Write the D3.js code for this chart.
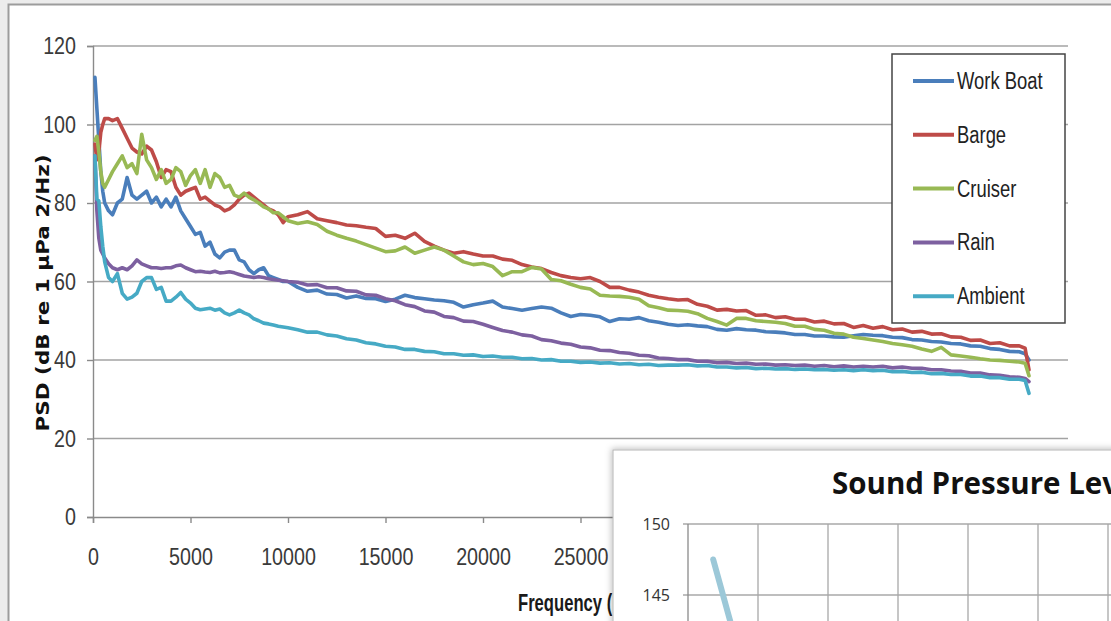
<!DOCTYPE html>
<html>
<head>
<meta charset="utf-8">
<script src="https://cdn.jsdelivr.net/npm/d3@7"></script>
<style>
  html, body { margin: 0; padding: 0; background: #ececec; overflow: hidden; }
  svg { display: block; }
</style>
</head>
<body>
<svg id="chart" width="1111" height="621"></svg>
<script>
const labelFont = '"Liberation Sans", Arial, sans-serif'
const seriesNames = ['Work Boat', 'Barge', 'Cruiser', 'Rain', 'Ambient']
const seriesColors = ['#4a7ebb', '#be4b48', '#98b954', '#7d60a0', '#46aac5']

// frequency grid of the samples (Hz)
const freqs = [100, 200, 300, 400, 500, 600, 800]
  .concat(d3.range(1000, 10001, 250), d3.range(10500, 47501, 500), [47800, 48000])

const workBoat = [
  112, 104, 96, 88, 83, 80, 78,
  77, 80, 81, 86.5, 82, 81, 82, 83, 80, 81.5, 79, 81, 79, 81.5, 78, 76, 74, 72, 72.5, 69, 70, 67, 66, 67.5, 68, 68, 65.5, 65, 63, 62, 63, 63.5, 61.5, 61, 60.5, 60, 60,
  58.5, 57.5, 57.8, 56.8, 56.7, 55.8, 56.3, 55.7, 55.6, 54.9, 55.5, 56.5, 55.9, 55.6, 55.3, 55.1, 54.7, 53.5, 54.1, 54.5,
  55, 53.5, 53.1, 52.7, 53.1, 53.5, 53.2, 52, 51.1, 51.6, 51.4, 51, 49.8, 50.5, 50.4, 50.8, 50, 49.6, 49.1, 48.8,
  49, 48.7, 48.5, 47.8, 47.6, 48, 47.7, 47.6, 47.2, 47.1, 46.9, 46.5, 46.5, 46.1, 46.1, 45.9, 45.8, 46.2, 46.5, 46.3,
  46.2, 45.8, 45.7, 45.2, 45.1, 44.7, 44.6, 44.2, 44.1, 43.6, 43.5, 42.9, 42.7, 42.2, 42.1,
  41.6, 40
]
const barge = [
  95, 91, 93, 98, 100, 101.5, 101.5,
  101, 101.5, 99, 96.5, 94, 93, 92.5, 94.5, 93.5, 90.5, 86.5, 88.5, 88, 84, 82, 83, 83.5, 84, 81, 81.5, 80.5, 79.5, 79, 78, 78.5, 79.5, 81, 82, 82.5, 81.5, 80.5, 79.5, 78.5, 78, 77, 75, 76.5,
  77, 77.8, 76, 75.5, 75, 74.4, 74.2, 73.8, 73.5, 71.5, 71.8, 71, 72.3, 70.2, 69, 68, 67.2, 67.6, 67, 66.5,
  66.5, 65.7, 65.4, 64.3, 63.7, 63.3, 62.3, 61.5, 61, 60.7, 61, 60, 58.5, 58.5, 57.8, 57.3, 56.5, 56, 55.6, 55.3,
  55.4, 54.2, 53.7, 52.7, 52.9, 52.5, 52.6, 51.4, 51.5, 50.8, 51, 50.4, 50.4, 49.7, 49.9, 49.2, 49.3, 48.3, 48.8, 48.1,
  48.5, 47.7, 47.9, 47.1, 47.3, 46.6, 46.7, 45.9, 45.8, 45, 45.1, 44.2, 44.4, 43.6, 43.6,
  43, 37.5
]
const cruiser = [
  96, 97, 93, 88, 85, 84, 86,
  88, 90, 92, 89, 90, 87.5, 97.5, 91, 89, 86, 88.5, 85, 86, 89, 88, 84.5, 87, 88.5, 85, 88.5, 84, 87.5, 86.5, 84, 84.5, 82, 81.5, 82.5, 81.5, 80.8, 80, 79, 78.5, 77.5, 77.5, 76.5, 75.5,
  74.8, 75.2, 74.5, 72.8, 71.8, 71, 70.3, 69.4, 68.5, 67.6, 67.8, 68.8, 67.2, 68, 68.8, 68, 66.5, 65, 64.3, 64.6,
  63.8, 61.5, 62.5, 62.5, 63.6, 63.2, 60.5, 60.2, 59.3, 58.5, 58.1, 56.5, 56.3, 56.2, 56, 55.5, 53.8, 53.3, 52.7, 52.6,
  52.4, 51.8, 50.6, 49.8, 48.9, 50.6, 50.6, 50, 49.8, 49.6, 49.3, 48.6, 48.6, 47.8, 47.6, 46.8, 46.6, 45.8, 45.5, 45.1,
  44.7, 44.2, 43.9, 43.5, 42.8, 42.2, 43.2, 41.3, 41, 40.7, 40.3, 40, 39.9, 39.7, 39.5,
  39.2, 36
]
const rain = [
  92, 78, 71, 68, 67, 66, 64.5,
  63.5, 63, 63.5, 63, 64, 65.5, 64.5, 64, 63.5, 63.5, 63.3, 63.5, 63.5, 64, 64.2, 63.5, 63, 62.5, 62.6, 62.4, 62.3, 62.6, 62.2, 62.3, 62.5, 62.2, 61.8, 61.4, 61.2, 61, 61.2, 61, 60.7, 60.5, 60.3, 60.2, 60,
  59.8, 59.1, 59.2, 58.4, 58.4, 57.6, 57.5, 56.6, 56.5, 55.6, 55.1, 54.1, 53.6, 52.5, 52.2, 51.1, 50.8, 49.9, 49.8, 49.1,
  48.3, 47.5, 47.1, 46.4, 46.1, 45.2, 44.9, 44.3, 44, 43.3, 43.1, 42.5, 42.4, 41.9, 41.7, 41.2, 41.1, 40.5, 40.4, 40.1,
  40.1, 39.7, 39.7, 39.3, 39.4, 39.1, 39.2, 38.9, 39, 38.7, 38.8, 38.6, 38.7, 38.4, 38.6, 38.3, 38.5, 38.2, 38.4, 38.2,
  38.4, 38, 38.2, 37.9, 37.9, 37.5, 37.5, 37.2, 37.1, 36.7, 36.7, 36.2, 36.1, 35.7, 35.6,
  35.3, 34.5
]
const ambient = [
  92, 81, 80.5, 74, 69, 65, 61,
  60, 62, 57, 55.5, 56, 57, 60, 61, 61, 58, 58.5, 55, 55, 56, 57.2, 55.5, 54.5, 53.2, 52.8, 53, 53.2, 52.7, 53, 52, 51.5, 52, 52.7, 52, 51.5, 50.5, 50, 49.4, 49.2, 48.9, 48.6, 48.4, 48.2,
  47.7, 47.1, 47.1, 46.4, 46.1, 45.4, 45.1, 44.4, 44.1, 43.5, 43.3, 42.7, 42.7, 42.2, 42.1, 41.6, 41.6, 41.2, 41.3, 40.9,
  41, 40.7, 40.7, 40.3, 40.4, 40, 40.1, 39.7, 39.7, 39.4, 39.5, 39.2, 39.3, 39, 39.1, 38.8, 38.9, 38.6, 38.7, 38.7,
  38.8, 38.5, 38.6, 38.2, 38.2, 38, 38.1, 37.8, 37.9, 37.7, 37.8, 37.6, 37.7, 37.5, 37.6, 37.4, 37.5, 37.3, 37.5, 37.3,
  37.4, 37, 37.1, 36.8, 36.9, 36.5, 36.6, 36.3, 36.3, 35.9, 35.9, 35.5, 35.5, 35.1, 35.1,
  34.8, 31.5
]
const seriesValues = [workBoat, barge, cruiser, rain, ambient]

const yTicks = [0, 20, 40, 60, 80, 100, 120]
const xTicks = [0, 5000, 10000, 15000, 20000, 25000, 30000, 35000, 40000, 45000, 50000]

// the overlapping second chart (only its corner is visible)
const splTicks = [150, 145, 140, 135]
const splCols = [0, 1, 2, 3, 4, 5, 6]
const splX = [0.36, 0.78]
const splY = [147.5, 140]

const svg = d3.select('#chart')

// squeeze text horizontally, the source font is a narrow one
function condense(sel, factor) {
  sel.each(function () {
    const w = this.getComputedTextLength()
    d3.select(this).attr('textLength', w * factor).attr('lengthAdjust', 'spacingAndGlyphs')
  })
}

// white chart panel with its frame
svg.append('rect')
  .attr('x', 8.5).attr('y', 4.5)
  .attr('width', 1200).attr('height', 700)
  .attr('fill', '#fff')
  .attr('stroke', '#9c9c9c')
  .attr('stroke-width', 2)

var x = d3.scaleLinear().domain([0, 50000]).range([93, 1068])
var y = d3.scaleLinear().domain([0, 120]).range([517, 46])

// horizontal gridlines
svg.append('g')
  .selectAll('line')
  .data(yTicks.filter(d => d > 0))
  .join('line')
  .attr('x1', x(0)).attr('x2', x(50000))
  .attr('y1', d => y(d)).attr('y2', d => y(d))
  .attr('stroke', '#a3a3a3')
  .attr('stroke-width', 1.6)

// y axis
const yAxis = svg.append('g')
  .attr('transform', `translate(${x(0)},0)`)
  .call(d3.axisLeft(y).tickValues(yTicks).tickSize(6).tickPadding(11))
yAxis.select('.domain').attr('stroke', '#8a8a8a').attr('stroke-width', 1.4)
yAxis.selectAll('.tick line').attr('stroke', '#8a8a8a').attr('stroke-width', 1.4)
yAxis.selectAll('.tick text')
  .attr('font-family', labelFont).attr('font-size', 24).attr('fill', '#3a3a3a')
  .call(condense, 0.82)

// x axis
const xAxis = svg.append('g')
  .attr('transform', `translate(0,${y(0)})`)
  .call(d3.axisBottom(x).tickValues(xTicks).tickSize(6).tickFormat(d3.format('d')))
xAxis.select('.domain').attr('stroke', '#8a8a8a').attr('stroke-width', 1.4)
xAxis.selectAll('.tick line').attr('stroke', '#8a8a8a').attr('stroke-width', 1.4)
xAxis.selectAll('.tick text')
  .attr('y', 48).attr('dy', null)
  .attr('font-family', labelFont).attr('font-size', 24).attr('fill', '#3a3a3a')
  .call(condense, 0.82)

// axis titles
svg.append('text')
  .attr('transform', 'translate(49,293) rotate(-90)')
  .attr('text-anchor', 'middle')
  .attr('font-family', '"DejaVu Sans", sans-serif')
  .attr('font-weight', 'bold')
  .attr('font-size', 18)
  .attr('textLength', 277)
  .attr('lengthAdjust', 'spacingAndGlyphs')
  .attr('fill', '#111')
  .text('PSD (dB re 1 µPa 2/Hz)')

svg.append('text')
  .attr('x', 518).attr('y', 611)
  .attr('font-family', labelFont)
  .attr('font-weight', 'bold')
  .attr('font-size', 23)
  .attr('textLength', 120)
  .attr('lengthAdjust', 'spacingAndGlyphs')
  .attr('fill', '#1a1a1a')
  .text('Frequency (Hz)')

// series
var lineGenerator = d3.line()
  .x(function (d) { return x(d[0]) })
  .y(function (d) { return y(d[1]) })

seriesValues.forEach(function (vals, i) {
  svg.append('path')
    .datum(d3.zip(freqs, vals))
    .attr('d', lineGenerator)
    .attr('fill', 'none')
    .attr('stroke', seriesColors[i])
    .attr('stroke-width', 3.6)
    .attr('stroke-linejoin', 'round')
    .attr('stroke-linecap', 'round')
})

// legend
const legend = svg.append('g')
legend.append('rect')
  .attr('x', 892).attr('y', 54)
  .attr('width', 173).attr('height', 269)
  .attr('fill', '#fff')
  .attr('stroke', '#444')
  .attr('stroke-width', 1.5)
seriesNames.forEach(function (name, i) {
  const ly = 81 + i * 53.8
  legend.append('line')
    .attr('x1', 913).attr('x2', 954)
    .attr('y1', ly).attr('y2', ly)
    .attr('stroke', seriesColors[i])
    .attr('stroke-width', 4)
  legend.append('text')
    .attr('x', 957).attr('y', ly)
    .attr('dy', '0.35em')
    .attr('font-family', labelFont)
    .attr('font-size', 23)
    .attr('fill', '#222')
    .text(name)
    .call(condense, 0.8)
})

// second chart overlapping the lower right corner
const defs = svg.append('defs')
const shadow = defs.append('filter').attr('id', 'shadow')
  .attr('x', '-5%').attr('y', '-10%').attr('width', '110%').attr('height', '120%')
shadow.append('feDropShadow')
  .attr('dx', -1).attr('dy', -1).attr('stdDeviation', 3)
  .attr('flood-color', '#000').attr('flood-opacity', 0.25)

const inset = svg.append('g')
inset.append('rect')
  .attr('x', 613).attr('y', 450)
  .attr('width', 600).attr('height', 300)
  .attr('fill', '#fff')
  .attr('stroke', '#b5b5b5')
  .attr('stroke-width', 1)
  .attr('filter', 'url(#shadow)')

var sx = d3.scaleLinear().domain([0, 6]).range([688, 1108])
var sy = d3.scaleLinear().domain([145, 150]).range([595, 524])

inset.append('g')
  .selectAll('line')
  .data(splTicks)
  .join('line')
  .attr('x1', 683).attr('x2', 1111)
  .attr('y1', d => sy(d)).attr('y2', d => sy(d))
  .attr('stroke', '#a8a8a8').attr('stroke-width', 1.3)
inset.append('g')
  .selectAll('line')
  .data(splCols)
  .join('line')
  .attr('x1', d => sx(d)).attr('x2', d => sx(d))
  .attr('y1', sy(150)).attr('y2', 640)
  .attr('stroke', d => d === 0 ? '#8a8a8a' : '#a8a8a8').attr('stroke-width', 1.3)
inset.append('g')
  .selectAll('text')
  .data(splTicks.slice(0, 2))
  .join('text')
  .attr('x', 670).attr('y', d => sy(d))
  .attr('dy', '0.35em')
  .attr('text-anchor', 'end')
  .attr('font-family', '"Open Sans", sans-serif')
  .attr('font-size', 16)
  .attr('fill', '#333')
  .text(d => d)

inset.append('text')
  .attr('x', 832).attr('y', 494)
  .attr('font-family', '"Open Sans", sans-serif')
  .attr('font-weight', 'bold')
  .attr('font-size', 29.5)
  .attr('fill', '#111')
  .text('Sound Pressure Level')

inset.append('path')
  .datum(d3.zip(splX, splY))
  .attr('d', d3.line().x(d => sx(d[0])).y(d => sy(d[1])))
  .attr('fill', 'none')
  .attr('stroke', '#9cc8d8')
  .attr('stroke-width', 6)
  .attr('stroke-linecap', 'round')
</script>
</body>
</html>
